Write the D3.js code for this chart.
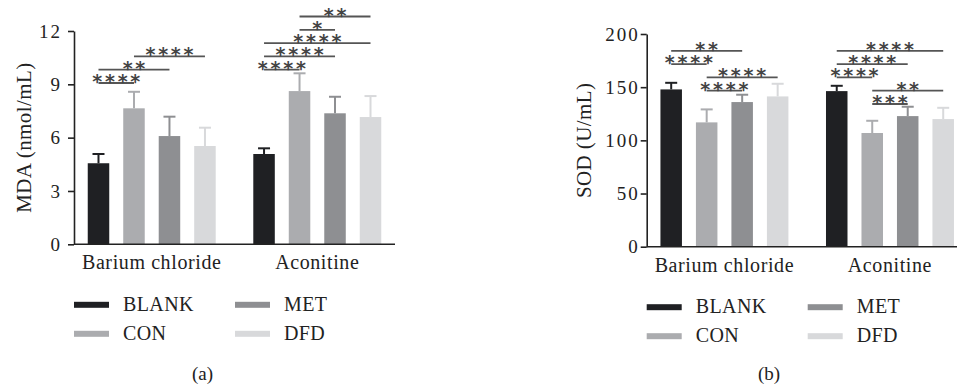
<!DOCTYPE html>
<html>
<head>
<meta charset="utf-8">
<script src="https://cdn.jsdelivr.net/npm/d3@7"></script>
<style>
  body { margin: 0; background: #fff; }
  text { font-family: "Liberation Serif", "Times New Roman", serif; fill: #222; }
  .stars { font-family: "DejaVu Sans", sans-serif; fill: #444; }
</style>
</head>
<body>
<div id="chart"></div>
<script>
// categories and groups
var categories = ["Barium chloride", "Aconitine"];
var groups = ["BLANK", "CON", "MET", "DFD"];
var colors = ["#1f2023", "#abacaf", "#8e8f92", "#d8d9db"];

// MDA (nmol/mL): mean and mean+sd, per category, order BLANK CON MET DFD
var mdaMean = [[4.56, 7.65, 6.09, 5.53], [5.08, 8.62, 7.37, 7.16]];
var mdaUpper = [[5.08, 8.58, 7.18, 6.56], [5.40, 9.62, 8.30, 8.34]];
var mdaTicks = [0, 3, 6, 9, 12];

// SOD (U/mL)
var sodMean = [[147.9, 116.9, 136.0, 141.3], [146.3, 106.9, 122.8, 120.0]];
var sodUpper = [[154.1, 129.1, 142.9, 153.2], [151.3, 118.4, 131.6, 130.6]];
var sodTicks = [0, 50, 100, 150, 200];

// significance brackets: [category, group from, group to, label, stack level]
var mdaSig = [
  [0, 0, 1, "****", 0],
  [0, 0, 2, "**", 1],
  [0, 1, 3, "****", 2],
  [1, 0, 1, "****", 1],
  [1, 0, 2, "****", 2],
  [1, 0, 3, "****", 3],
  [1, 1, 2, "*", 4],
  [1, 1, 3, "**", 5]
];
var sodSig = [
  [0, 1, 2, "****", 1],
  [0, 1, 3, "****", 2],
  [0, 0, 1, "****", 3],
  [0, 0, 2, "**", 4],
  [1, 1, 2, "***", 0],
  [1, 1, 3, "**", 1],
  [1, 0, 1, "****", 2],
  [1, 0, 2, "****", 3],
  [1, 0, 3, "****", 4]
];

var width = 957, height = 389;

var svg = d3.select("#chart")
  .append("svg")
  .attr("width", width)
  .attr("height", height);

function drawPanel(p) {
  var g = svg.append("g");

  var x0 = d3.scaleBand()
    .domain(categories)
    .range([p.left, p.left + 321])
    .paddingInner(0.227)
    .paddingOuter(0.083);

  var x1 = d3.scaleBand()
    .domain(groups)
    .range([0, x0.bandwidth()])
    .paddingInner(0.394)
    .paddingOuter(0);

  var y = d3.scaleLinear()
    .domain([0, p.ticks[p.ticks.length - 1]])
    .range([p.bottom, p.top]);

  function cx(ci, gi) {
    return x0(categories[ci]) + x1(groups[gi]) + x1.bandwidth() / 2;
  }

  var rows = [];
  categories.forEach(function(c, ci) {
    groups.forEach(function(gr, gi) {
      rows.push({ci: ci, gi: gi, mean: p.mean[ci][gi], upper: p.upper[ci][gi]});
    });
  });

  // error bars (upper only)
  g.selectAll(".err")
    .data(rows)
    .enter().append("line")
    .attr("x1", function(d) { return cx(d.ci, d.gi); })
    .attr("x2", function(d) { return cx(d.ci, d.gi); })
    .attr("y1", function(d) { return y(d.mean); })
    .attr("y2", function(d) { return y(d.upper); })
    .style("stroke", function(d) { return colors[d.gi]; })
    .style("stroke-width", 2);
  g.selectAll(".cap")
    .data(rows)
    .enter().append("line")
    .attr("x1", function(d) { return cx(d.ci, d.gi) - 6; })
    .attr("x2", function(d) { return cx(d.ci, d.gi) + 6; })
    .attr("y1", function(d) { return y(d.upper); })
    .attr("y2", function(d) { return y(d.upper); })
    .style("stroke", function(d) { return colors[d.gi]; })
    .style("stroke-width", 2);

  g.selectAll(".bar")
    .data(rows)
    .enter().append("rect")
    .attr("class", "bar")
    .attr("x", function(d) { return x0(categories[d.ci]) + x1(groups[d.gi]); })
    .attr("width", x1.bandwidth())
    .attr("y", function(d) { return y(d.mean); })
    .attr("height", function(d) { return y(0) - y(d.mean); })
    .style("fill", function(d) { return colors[d.gi]; });

  // y axis
  var yAxis = g.append("g")
    .attr("transform", "translate(" + p.left + ",0)")
    .call(d3.axisLeft(y).tickValues(p.ticks).tickSize(6).tickSizeOuter(0).tickPadding(p.tickPad));
  yAxis.attr("font-size", null).attr("font-family", null);
  yAxis.select(".domain").style("stroke", "#222").style("stroke-width", 1.6);
  yAxis.selectAll(".tick line").style("stroke", "#222").style("stroke-width", 1.6);
  yAxis.selectAll(".tick text")
    .style("font-family", "Liberation Serif, serif")
    .style("font-size", "19px")
    .style("letter-spacing", "2px")
    .style("fill", "#222");

  // x axis line
  g.append("line")
    .attr("x1", p.left)
    .attr("x2", p.left + 321)
    .attr("y1", y(0))
    .attr("y2", y(0))
    .style("stroke", "#222")
    .style("stroke-width", 1.6);

  g.selectAll(".cat")
    .data(categories)
    .enter().append("text")
    .attr("x", function(d) { return x0(d) + x0.bandwidth() / 2; })
    .attr("y", y(0) + 25)
    .attr("text-anchor", "middle")
    .style("font-size", "20px")
    .style("letter-spacing", "0.6px")
    .text(function(d) { return d; });

  // y title
  g.append("text")
    .attr("transform", "translate(" + p.titleX + "," + ((p.top + p.bottom) / 2) + ") rotate(-90)")
    .attr("text-anchor", "middle")
    .style("font-size", "21px")
    .style("letter-spacing", "0.4px")
    .text(p.title);

  // significance brackets
  var sigBase = p.sigBase, sigStep = 13.3;
  p.sig.forEach(function(s) {
    var xa = cx(s[0], s[1]), xb = cx(s[0], s[2]);
    var ly = sigBase - s[4] * sigStep;
    g.append("line")
      .attr("x1", xa).attr("x2", xb)
      .attr("y1", ly).attr("y2", ly)
      .style("stroke", "#555")
      .style("stroke-width", 1.8);
    var ls = 2.8;
    g.append("text")
      .attr("class", "stars")
      .attr("x", (xa + xb) / 2 + ls / 2)
      .attr("y", ly + 5)
      .attr("text-anchor", "middle")
      .style("font-size", "19px")
      .style("font-weight", "bold")
      .style("letter-spacing", ls + "px")
      .text(s[3]);
  });

  // legend: BLANK, CON (left column), MET, DFD (right column)
  var leg = g.selectAll(".leg")
    .data(groups)
    .enter().append("g")
    .attr("transform", function(d, i) {
      var col = i < 2 ? 0 : 1, row = i % 2;
      return "translate(" + (p.left + col * 161) + "," + (y(0) + 60.5 + row * 29) + ")";
    });
  leg.append("rect")
    .attr("x", 0)
    .attr("y", -3)
    .attr("width", 35)
    .attr("height", 6)
    .style("fill", function(d, i) { return colors[i]; });
  leg.append("text")
    .attr("x", 49)
    .attr("y", 6)
    .style("font-size", "20px")
    .style("letter-spacing", "0.4px")
    .text(function(d) { return d; });

  g.append("text")
    .attr("x", p.labelX)
    .attr("y", 380)
    .attr("text-anchor", "middle")
    .style("font-size", "19px")
    .text(p.label);
}

drawPanel({
  left: 74, top: 31, bottom: 244.3,
  mean: mdaMean, upper: mdaUpper, ticks: mdaTicks, sig: mdaSig,
  sigBase: 83, tickPad: 6, titleX: 31, title: "MDA (nmol/mL)",
  label: "(a)", labelX: 202.5
});

drawPanel({
  left: 646.7, top: 34, bottom: 246.7,
  mean: sodMean, upper: sodUpper, ticks: sodTicks, sig: sodSig,
  sigBase: 104, tickPad: 1, titleX: 591, title: "SOD (U/mL)",
  label: "(b)", labelX: 769
});
</script>
</body>
</html>
